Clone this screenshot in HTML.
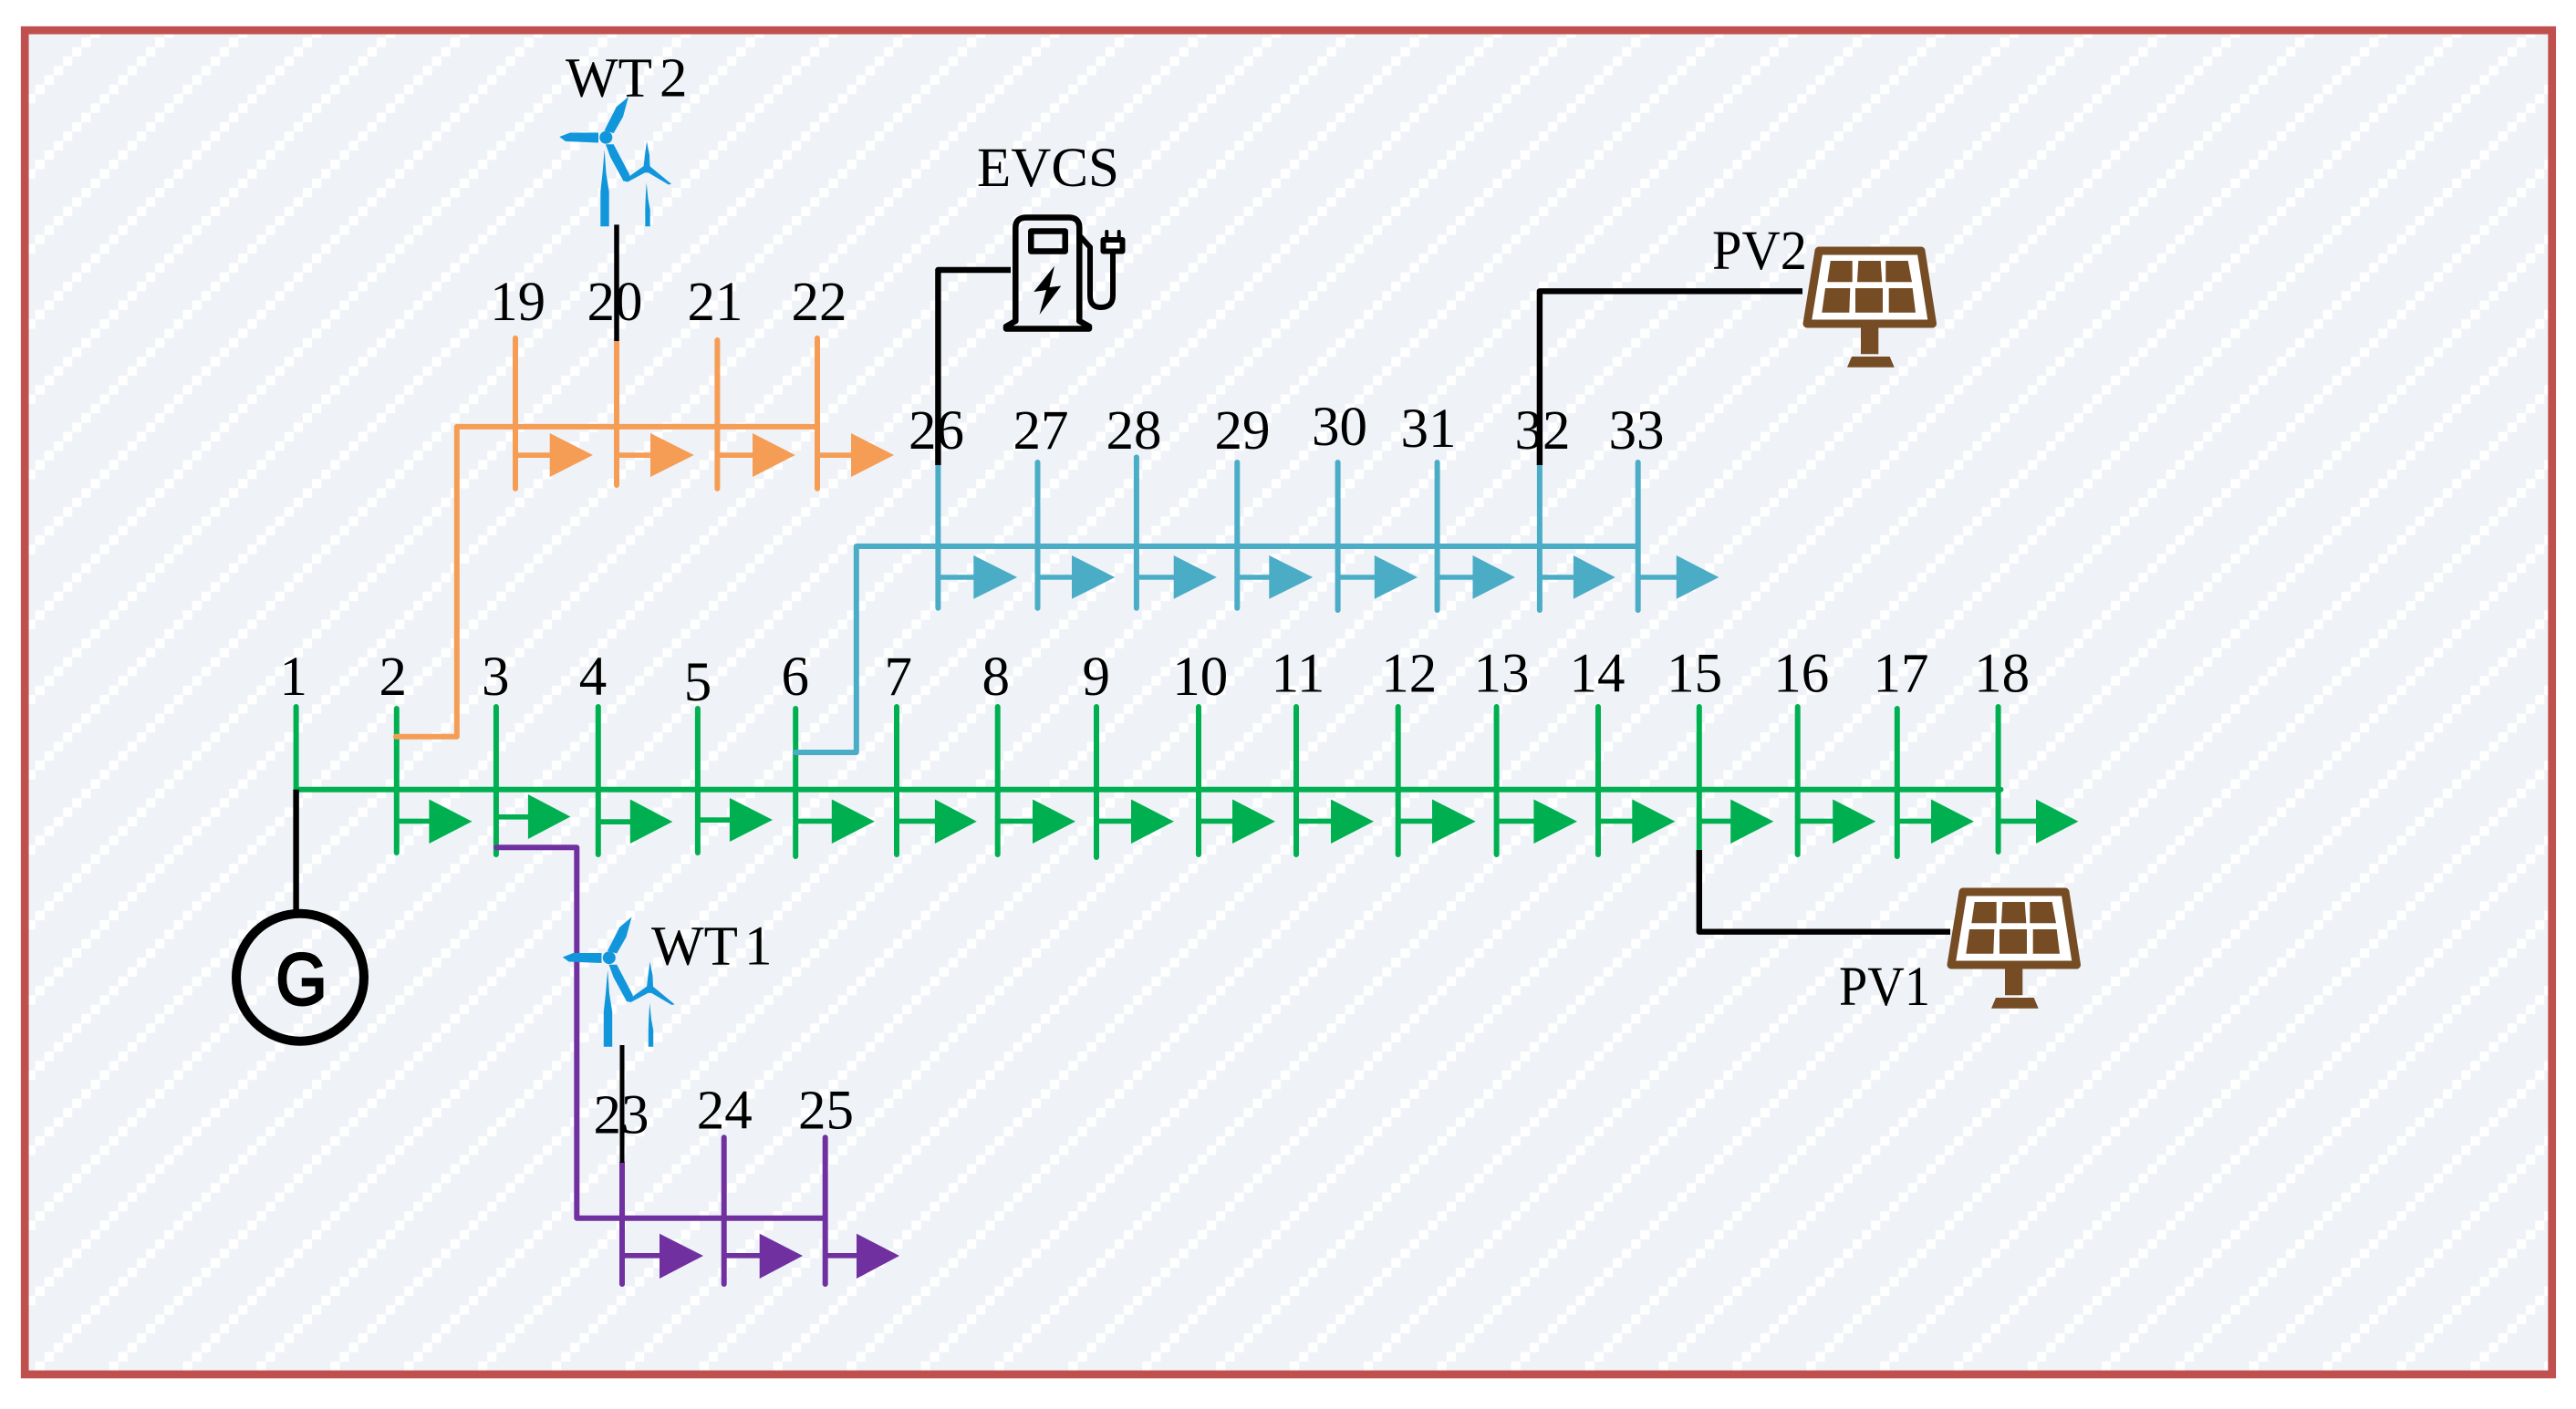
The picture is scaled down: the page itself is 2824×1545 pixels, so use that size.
<!DOCTYPE html>
<html>
<head>
<meta charset="utf-8">
<title>33-bus distribution network diagram</title>
<style>
html,body{margin:0;padding:0;background:#fff;width:2824px;height:1545px;overflow:hidden}
svg{display:block}
text{font-family:"Liberation Serif",serif;font-size:61px;fill:#000;text-anchor:middle}
.l{text-anchor:start}
.bus{fill:none;stroke-width:6;stroke-linecap:round;stroke-linejoin:round}
.blk{fill:none;stroke:#000;stroke-width:6.4;stroke-linecap:butt;stroke-linejoin:round}
</style>
</head>
<body>
<svg xmlns="http://www.w3.org/2000/svg" width="2824" height="1545" viewBox="0 0 2824 1545">
<defs>
<pattern id="hatch" patternUnits="userSpaceOnUse" x="89.3" y="41.3" width="80.9" height="82.36">
<rect width="80.9" height="82.36" fill="#eff3f8"/>
<path fill="#fff" d="M0 0h10.11v10.3H0zM70.79 10.3h10.11v10.3H70.79zM60.68 20.59h10.11v10.3H60.68zM50.57 30.89h10.11v10.3H50.57zM40.45 41.18h10.11v10.3H40.45zM30.34 51.48h10.11v10.3H30.34zM20.23 61.77h10.11v10.3H20.23zM10.11 72.07h10.11v10.3H10.11z"/>
</pattern>
<g id="wt" fill="#1296db">
<circle cx="664.3" cy="150.7" r="7"/>
<polygon points="689,106 675.7,117.3 662.5,143.3 672.7,146 683,128"/>
<polygon points="613.3,150 625,145.5 656,145.5 656,156.5 620,155"/>
<polygon points="664,158.3 672.7,158.3 690.3,191.7 689,198.3 683.3,198.3 669,172"/>
<polygon points="662.7,164 664.5,190 667.7,210 667.7,248.3 658.3,248.3 658.3,210 660.5,190"/>
<circle cx="709" cy="185" r="4.5"/>
<polygon points="709,155 712,170 712.5,183 705.5,183 707,170"/>
<polygon points="706.5,181.5 710.5,187.5 688,199.5 683,198.3"/>
<polygon points="711.5,181.5 707.5,187.5 733,202.5 736,201.7"/>
<polygon points="708.7,200 710.5,218 712.7,230 712.7,248.3 707.3,248.3 707.3,230 707.7,218"/>
</g>
<g id="pv">
<path d="M1994 275H2106L2118.5 355H1981Z" fill="#fff" stroke="#754c24" stroke-width="9" stroke-linejoin="round"/>
<path fill="#754c24" d="M2006.7 286H2030.7V309.3H2003.3ZM2037.3 286H2061.7L2063.3 309.3H2036ZM2067.3 286H2091.7L2096 309.3H2067.3ZM2001 316H2028.3L2027.3 342.7H1997.3ZM2034 316H2064L2064 342.7H2034ZM2070.7 316H2096.7L2100 342.7H2070.7ZM2040 358H2059.3V388.3H2040ZM2030 391H2071.7L2076.7 402.7H2025Z"/>
</g>
</defs>

<rect x="27.2" y="33.2" width="2770.5" height="1473.8" fill="url(#hatch)" stroke="#c0504d" stroke-width="8.7"/>

<!-- labels -->
<text x="321.7" y="762">1</text>
<text x="430.8" y="762">2</text>
<text x="543.3" y="762">3</text>
<text x="650" y="762">4</text>
<text x="765" y="768">5</text>
<text x="871.7" y="762">6</text>
<text x="984.7" y="762">7</text>
<text x="1091.7" y="762">8</text>
<text x="1201.7" y="762">9</text>
<text x="1315.7" y="762">10</text>
<text x="1423" y="758.5">11</text>
<text x="1544.8" y="758.5">12</text>
<text x="1646" y="758.5">13</text>
<text x="1751" y="758.5">14</text>
<text x="1857.6" y="758.5">15</text>
<text x="1974.7" y="758.5">16</text>
<text x="2084" y="758.5">17</text>
<text x="2194.6" y="758.5">18</text>
<text x="567.6" y="351">19</text>
<text x="674" y="351">20</text>
<text x="784" y="351">21</text>
<text x="898" y="351">22</text>
<text x="681" y="1242.7">23</text>
<text x="794.2" y="1237.7">24</text>
<text x="905.5" y="1237.7">25</text>
<text x="1026.5" y="491.8">26</text>
<text x="1141" y="491.8">27</text>
<text x="1243" y="491.8">28</text>
<text x="1362" y="491.8">29</text>
<text x="1468.5" y="488">30</text>
<text x="1566" y="490">31</text>
<text x="1691" y="491.8">32</text>
<text x="1794" y="491.8">33</text>
<text class="l" x="620" y="105.4" word-spacing="-6">WT 2</text>
<text class="l" x="714" y="1057.7" word-spacing="-7">WT 1</text>
<text class="l" x="1071" y="204">EVCS</text>
<text class="l" x="1877" y="295" textLength="104" lengthAdjust="spacingAndGlyphs">PV2</text>
<text class="l" x="2016" y="1102" textLength="100" lengthAdjust="spacingAndGlyphs">PV1</text>

<!-- green feeder -->
<path class="bus" stroke="#00b050" d="M324.6 865.7H2193.5M324.6 775V865.7M434.8 777V935M543.9 775V937M655.8 775V937M764.9 777V935M872.2 777V939M983 775V937M1093.7 775V937M1202 775V940M1314 775V937M1421 775V937M1532.7 775V937M1640.6 775V937M1752 775V937M1862.8 775V932M1970.7 775V937M2079.8 777V939M2190.6 775V934"/>
<path fill="#00b050" d="M434.8 897.6H470.4V876.5L517.5 900.7L470.4 925V903.3H434.8ZM543.9 893H578.9V871L625.4 895.5L578.9 920V898.6H543.9ZM655.8 898.3H690.8V876.5L737.3 901L690.8 925V904H655.8ZM764.9 896.3H799.9V875L847 899L799.9 923V902H764.9ZM872.2 897.6H911.8V876.5L958.9 900.7L911.8 925V903.3H872.2ZM983 897.6H1024.9V876.5L1070.8 900.7L1024.9 925V903.3H983ZM1093.7 897.6H1132V876.5L1179 900.7L1132 925V903.3H1093.7ZM1202 897.6H1240V876.5L1287 900.7L1240 925V903.3H1202ZM1314 897.6H1351V876.5L1398 900.7L1351 925V903.3H1314ZM1421 897.6H1459V876.5L1506 900.7L1459 925V903.3H1421ZM1532.7 897.6H1570V876.5L1617.7 900.7L1570 925V903.3H1532.7ZM1640.6 897.6H1681.4V876.5L1729 900.7L1681.4 925V903.3H1640.6ZM1752 897.6H1789.3V876.5L1836.4 900.7L1789.3 925V903.3H1752ZM1862.8 897.6H1897.2V876.5L1944.3 900.7L1897.2 925V903.3H1862.8ZM1970.7 897.6H2009.2V876.5L2056.3 900.7L2009.2 925V903.3H1970.7ZM2079.8 897.6H2117V876.5L2164 900.7L2117 925V903.3H2079.8ZM2190.6 897.6H2232V876.5L2278.4 900.7L2232 925V903.3H2190.6Z"/>

<!-- orange feeder -->
<path class="bus" stroke="#f59d55" d="M434 807.7H500.8V467.9H896M565 370.7V535.7M676 374V532M786.4 373V535.7M896 370.7V535.7"/>
<path fill="#f59d55" d="M565 496.3H602.7V475L649.9 499L602.7 523V502H565ZM676 496.3H713V475L760.8 499L713 523V502H676ZM786.4 496.3H825V475L871.8 499L825 523V502H786.4ZM896 496.3H933V475L980 499L933 523V502H896Z"/>

<!-- blue feeder -->
<path class="bus" stroke="#4bacc6" d="M872 825H938.8V599H1795.7M1028.4 510V666.8M1137.5 507V666.8M1245.9 501.4V666.8M1356.3 507V666.8M1466.6 507V669M1575.6 507V669M1687.9 510V669M1795.7 507V669"/>
<path fill="#4bacc6" d="M1028.4 630.2H1067.3V609L1115.2 633L1067.3 656.8V635.8H1028.4ZM1137.5 630.2H1175V609L1222.3 633L1175 656.8V635.8H1137.5ZM1245.9 630.2H1286.7V609L1333.9 633L1286.7 656.8V635.8H1245.9ZM1356.3 630.2H1391.3V609L1439.2 633L1391.3 656.8V635.8H1356.3ZM1466.6 630.2H1506.8V609L1554 633L1506.8 656.8V635.8H1466.6ZM1575.6 630.2H1614.5V609L1661 633L1614.5 656.8V635.8H1575.6ZM1687.9 630.2H1724.9V609L1770.8 633L1724.9 656.8V635.8H1687.9ZM1795.7 630.2H1837.8V609L1884.3 633L1837.8 656.8V635.8H1795.7Z"/>

<!-- purple feeder -->
<path class="bus" stroke="#7030a0" d="M544 929.3H632.3V1335.7H904.7M682 1275V1408M793.7 1247.3V1408M904.7 1247.3V1408"/>
<path fill="#7030a0" d="M682 1374H723V1352.7L771 1377L723 1402V1379.6H682ZM793.7 1374H832.7V1352.7L880 1377L832.7 1402V1379.6H793.7ZM904.7 1374H939V1352.7L986 1377L939 1402V1379.6H904.7Z"/>

<!-- black connectors -->
<path class="blk" d="M324.6 865.7V998"/>
<path class="blk" style="stroke-width:5.5" d="M676 246.4V374"/>
<path class="blk" style="stroke-width:5" d="M682 1146V1275"/>
<path class="blk" d="M1028.4 510V296H1108"/>
<path class="blk" d="M1687.9 510V319.3H1976"/>
<path class="blk" d="M1862.8 932V1021.7H2138"/>

<!-- generator -->
<circle cx="329" cy="1071.7" r="70" fill="none" stroke="#000" stroke-width="10"/>
<text x="330.5" y="1101" style="font-family:'Liberation Sans',sans-serif;font-size:80px;stroke:#000;stroke-width:3" textLength="56" lengthAdjust="spacingAndGlyphs">G</text>

<!-- wind turbines -->
<use href="#wt"/>
<use href="#wt" transform="translate(3.5 899.5)"/>

<!-- PV panels -->
<use href="#pv"/>
<use href="#pv" transform="translate(158 703)"/>

<!-- EV charging station -->
<g fill="none" stroke="#000" stroke-width="6.5" stroke-linejoin="round" stroke-linecap="round">
<path d="M1113.3 352V250Q1113.3 238.5 1125 238.5H1172Q1183.3 238.5 1183.3 250V352"/>
<path d="M1113.3 352L1103 358V360.5H1194V358L1183.3 352"/>
<rect x="1130.3" y="253.5" width="37.4" height="22" stroke-width="6.5"/>
<path d="M1185 260L1195 271V324Q1195 337 1206.7 337Q1220 337 1220 324V278" stroke-width="6"/>
<path d="M1209.5 263H1230.5V275.5H1209.5Z" stroke-width="6" fill="#fff"/>
<path d="M1213.3 254V261M1226.7 254V261" stroke-width="4"/>
</g>
<polygon fill="#000" points="1156,291.7 1133.3,320 1147,318 1139.5,345 1163.3,313.5 1150.5,315"/>
</svg>
</body>
</html>
